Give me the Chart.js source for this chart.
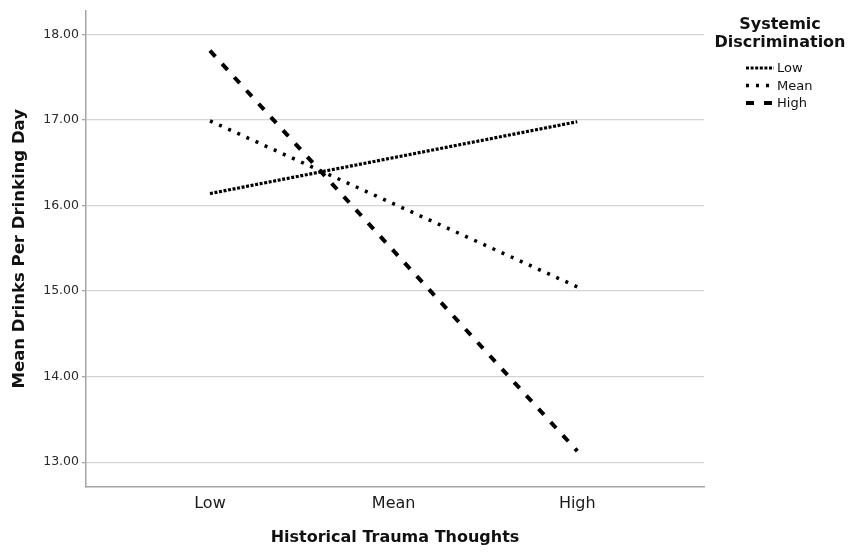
<!DOCTYPE html>
<html>
<head>
<meta charset="utf-8">
<script src="https://cdn.jsdelivr.net/npm/chart.js@4"></script>
<style>
  html, body { margin: 0; padding: 0; background: #fff; }
  #wrap { width: 851px; height: 553px; }
</style>
</head>
<body>
<div id="wrap"><canvas id="interactionChart" width="851" height="553"></canvas></div>
<script>
// --- Data ---
const traumaLevels = ['Low', 'Mean', 'High'];        // x categories
const plottedLevels = ['Low', 'High'];               // where each line has a value
const discriminationLevels = ['Low', 'Mean', 'High'];
const lowDiscrimination = [16.14, 16.98];
const meanDiscrimination = [16.99, 15.05];
const highDiscrimination = [17.81, 13.13];
const yTicks = [13, 14, 15, 16, 17, 18];

const FONT = "'DejaVu Sans', sans-serif";

const toPoints = (values) => values.map((v, i) => ({ x: traumaLevels.indexOf(plottedLevels[i]) + 1, y: v }));

const lineStyles = [
    { borderDash: [3, 1.6], borderWidth: 3.2 },
    { borderDash: [3, 7], borderWidth: 3.5 },
    { borderDash: [8, 10], borderWidth: 4 }
];
const seriesValues = [lowDiscrimination, meanDiscrimination, highDiscrimination];

const datasets = discriminationLevels.map((label, i) => ({
    label: label,
    data: toPoints(seriesValues[i]),
    borderColor: '#000',
    borderWidth: lineStyles[i].borderWidth,
    borderDash: lineStyles[i].borderDash,
    borderCapStyle: 'butt',
    pointRadius: 0,
    fill: false,
    tension: 0
}));

// legend drawn at the right, SPSS style, with a two-line title
const sideLegend = {
    id: 'sideLegend',
    afterDraw(chart) {
        const ctx = chart.ctx;
        ctx.save();
        ctx.fillStyle = '#111';
        ctx.textAlign = 'center';
        ctx.textBaseline = 'middle';
        ctx.font = 'bold 16px ' + FONT;
        ctx.fillText('Systemic', 780, 25);
        ctx.fillText('Discrimination', 780, 43);

        ctx.font = '13px ' + FONT;
        ctx.textAlign = 'left';
        chart.data.datasets.forEach((ds, i) => {
            const y = 68 + i * 17.5;
            ctx.beginPath();
            ctx.setLineDash(ds.borderDash);
            ctx.lineWidth = ds.borderWidth;
            ctx.strokeStyle = ds.borderColor;
            ctx.moveTo(746, y);
            ctx.lineTo(774, y);
            ctx.stroke();
            ctx.setLineDash([]);
            ctx.fillText(ds.label, 777, y + 1);
        });
        ctx.restore();
    }
};

new Chart(document.getElementById('interactionChart').getContext('2d'), {
    type: 'line',
    data: { datasets: datasets },
    options: {
        responsive: false,
        animation: false,
        layout: { padding: { top: 6, right: 147, left: 0, bottom: 0 } },
        plugins: { legend: { display: false }, tooltip: { enabled: false } },
        scales: {
            x: {
                type: 'linear',
                min: 0.325,
                max: 3.69,
                afterBuildTicks: (scale) => { scale.ticks = traumaLevels.map((_, i) => ({ value: i + 1 })); },
                afterFit: (scale) => { scale.height = 66; },
                grid: { display: true, drawOnChartArea: false, drawTicks: false },
                border: { color: '#a6a6a6', width: 1.5 },
                ticks: {
                    padding: 7,
                    color: '#1a1a1a',
                    font: { family: FONT, size: 16 },
                    callback: (value) => traumaLevels[value - 1]
                },
                title: {
                    display: true,
                    text: 'Historical Trauma Thoughts',
                    color: '#111',
                    font: { family: FONT, size: 16, weight: 'bold' },
                    padding: { top: 0, bottom: 6 }
                }
            },
            y: {
                min: 12.71,
                max: 18.28,
                afterBuildTicks: (scale) => { scale.ticks = yTicks.map(v => ({ value: v })); },
                afterFit: (scale) => { scale.width = 86; },
                grid: { color: '#d4d4d4', lineWidth: 1.3, tickLength: 4, tickColor: '#a6a6a6' },
                border: { color: '#a6a6a6', width: 1.5 },
                ticks: {
                    padding: 3,
                    color: '#2a2a2a',
                    font: { family: FONT, size: 12.5 },
                    callback: (value) => value.toFixed(2)
                },
                title: {
                    display: true,
                    text: 'Mean Drinks Per Drinking Day',
                    color: '#111',
                    font: { family: FONT, size: 16.5, weight: 'bold' },
                    padding: { top: 10, bottom: 0 }
                }
            }
        }
    },
    plugins: [sideLegend]
});
</script>
</body>
</html>
